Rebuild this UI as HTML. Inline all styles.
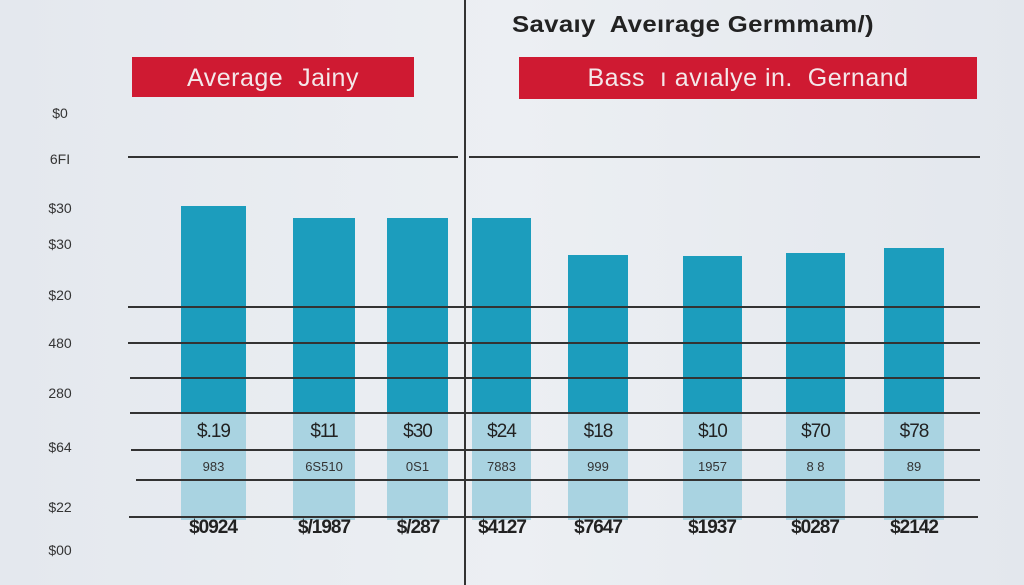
<!DOCTYPE html>
<html><head><style>
body{margin:0;width:1024px;height:585px;overflow:hidden;background:linear-gradient(90deg,#e4e8ee,#eceff3 50%,#e3e7ed);font-family:"Liberation Sans",sans-serif;position:relative}
div{position:absolute}
.l{height:1.5px;background:#333}
.bd{background:#1c9dbd}
.bl{background:#a9d3e1}
.y{left:40px;width:40px;font-size:14px;color:#333;text-align:center}
.v{font-size:19px;color:#222;text-align:center;letter-spacing:-1px}
.s{font-size:13px;color:#333;text-align:center}
.b{font-size:19px;color:#222;text-align:center;font-weight:bold;letter-spacing:-1px}
</style></head><body>
<div style="left:464px;top:0;width:2px;height:585px;background:#333"></div>
<div style="left:132px;top:57px;width:282px;height:40px;background:#cf1a32;color:#f4e8ea;font-size:25px;letter-spacing:0.5px;text-align:center;line-height:42px">Average&nbsp; Jainy</div>
<div style="left:519px;top:57px;width:458px;height:42px;background:#cf1a32;color:#f4e8ea;font-size:25px;letter-spacing:0.5px;text-align:center;line-height:42px">Bass &nbsp;ı avıalye in.&nbsp; Gernand</div>
<div style="left:512px;top:11px;font-size:23px;font-weight:bold;color:#222;letter-spacing:0.3px;transform:scaleX(1.12);transform-origin:left">Savaıy&nbsp; Aveırage Germmam/)</div>

<div class="bd" style="left:181px;top:206px;width:65px;height:206px"></div><div class="bl" style="left:181px;top:412px;width:65px;height:108px"></div>
<div class="bd" style="left:293px;top:218px;width:62px;height:194px"></div><div class="bl" style="left:293px;top:412px;width:62px;height:108px"></div>
<div class="bd" style="left:387px;top:218px;width:61px;height:194px"></div><div class="bl" style="left:387px;top:412px;width:61px;height:108px"></div>
<div class="bd" style="left:472px;top:218px;width:59px;height:194px"></div><div class="bl" style="left:472px;top:412px;width:59px;height:108px"></div>
<div class="bd" style="left:568px;top:255px;width:60px;height:157px"></div><div class="bl" style="left:568px;top:412px;width:60px;height:108px"></div>
<div class="bd" style="left:683px;top:256px;width:59px;height:156px"></div><div class="bl" style="left:683px;top:412px;width:59px;height:108px"></div>
<div class="bd" style="left:786px;top:253px;width:59px;height:159px"></div><div class="bl" style="left:786px;top:412px;width:59px;height:108px"></div>
<div class="bd" style="left:884px;top:248px;width:60px;height:164px"></div><div class="bl" style="left:884px;top:412px;width:60px;height:108px"></div>

<div class="l" style="left:128px;top:156px;width:330px"></div><div class="l" style="left:469px;top:156px;width:511px"></div>
<div class="l" style="left:128px;top:306px;width:852px"></div>
<div class="l" style="left:128px;top:342px;width:852px"></div>
<div class="l" style="left:130px;top:377px;width:850px"></div>
<div class="l" style="left:130px;top:412px;width:850px"></div>
<div class="l" style="left:131px;top:449px;width:849px"></div>
<div class="l" style="left:136px;top:479px;width:844px"></div>
<div class="l" style="left:129px;top:516px;width:849px"></div>

<div class="y" style="top:105px">$0</div>
<div class="y" style="top:151px">6FI</div>
<div class="y" style="top:200px">$30</div>
<div class="y" style="top:236px">$30</div>
<div class="y" style="top:287px">$20</div>
<div class="y" style="top:335px">480</div>
<div class="y" style="top:385px">280</div>
<div class="y" style="top:439px">$64</div>
<div class="y" style="top:499px">$22</div>
<div class="y" style="top:542px">$00</div>

<div class="v" style="left:181px;top:421px;width:65px">$.19</div>
<div class="v" style="left:293px;top:421px;width:62px">$11</div>
<div class="v" style="left:387px;top:421px;width:61px">$30</div>
<div class="v" style="left:472px;top:421px;width:59px">$24</div>
<div class="v" style="left:568px;top:421px;width:60px">$18</div>
<div class="v" style="left:683px;top:421px;width:59px">$10</div>
<div class="v" style="left:786px;top:421px;width:59px">$70</div>
<div class="v" style="left:884px;top:421px;width:60px">$78</div>

<div class="s" style="left:181px;top:459px;width:65px">983</div>
<div class="s" style="left:293px;top:459px;width:62px">6S510</div>
<div class="s" style="left:387px;top:459px;width:61px">0S1</div>
<div class="s" style="left:472px;top:459px;width:59px">7883</div>
<div class="s" style="left:568px;top:459px;width:60px">999</div>
<div class="s" style="left:683px;top:459px;width:59px">1957</div>
<div class="s" style="left:786px;top:459px;width:59px">8 8</div>
<div class="s" style="left:884px;top:459px;width:60px">89</div>

<div class="b" style="left:173px;top:517px;width:80px">$0924</div>
<div class="b" style="left:284px;top:517px;width:80px">$/1987</div>
<div class="b" style="left:378px;top:517px;width:80px">$/287</div>
<div class="b" style="left:462px;top:517px;width:80px">$4127</div>
<div class="b" style="left:558px;top:517px;width:80px">$7647</div>
<div class="b" style="left:672px;top:517px;width:80px">$1937</div>
<div class="b" style="left:775px;top:517px;width:80px">$0287</div>
<div class="b" style="left:874px;top:517px;width:80px">$2142</div>
</body></html>
